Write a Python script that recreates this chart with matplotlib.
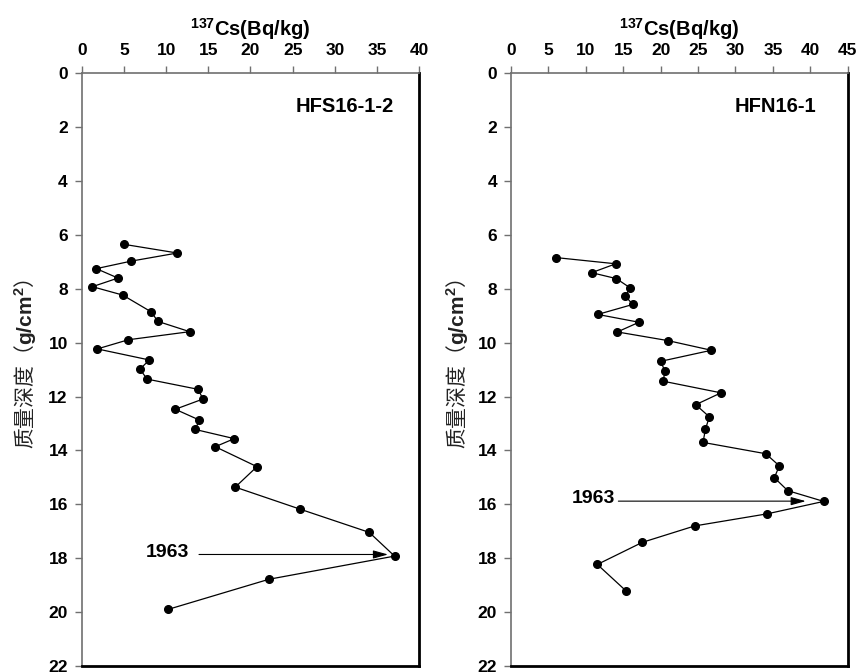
import matplotlib
matplotlib.use("Agg")
import matplotlib.pyplot as plt

plt.rcParams['mathtext.fontset'] = 'custom'
plt.rcParams['mathtext.rm'] = 'Liberation Sans:bold'
plt.rcParams['mathtext.bf'] = 'Liberation Sans:bold'
plt.rcParams['mathtext.it'] = 'Liberation Sans:bold'
plt.rcParams['font.family'] = ['Liberation Sans', 'Noto Sans CJK SC', 'DejaVu Sans']

# ---- data ----
hfs_cs = [5.05, 11.33, 5.88, 1.73, 4.30, 1.26, 4.85, 8.21, 9.04, 12.8,
          5.52, 1.85, 8.01, 6.91, 7.74, 13.8, 14.37, 11.09, 13.94, 13.46,
          18.08, 15.83, 20.77, 18.2, 25.9, 34.08, 37.08, 22.19, 10.22]
hfs_depth = [6.35, 6.67, 6.97, 7.25, 7.60, 7.92, 8.23, 8.85, 9.21, 9.59,
             9.89, 10.23, 10.64, 10.98, 11.35, 11.73, 12.09, 12.47, 12.87, 13.22,
             13.56, 13.86, 14.6, 15.36, 16.18, 17.04, 17.92, 18.78, 19.9]

hfn_cs = [6.02, 14.0, 10.78, 14.08, 15.91, 15.29, 16.27, 11.59, 17.11, 14.21,
          20.95, 26.78, 20.01, 20.55, 20.37, 28.07, 24.69, 26.51, 25.98, 25.67,
          34.05, 35.87, 35.2, 36.99, 41.8, 34.27, 24.56, 17.55, 11.54, 15.33]
hfn_depth = [6.84, 7.07, 7.40, 7.62, 7.96, 8.27, 8.58, 8.95, 9.24, 9.60,
             9.92, 10.28, 10.69, 11.04, 11.43, 11.86, 12.30, 12.75, 13.22, 13.70,
             14.12, 14.57, 15.01, 15.49, 15.89, 16.35, 16.8, 17.41, 18.23, 19.2]

x_label = r'$^{137}$Cs(Bq/kg)'
y_label = '质量深度（$\\mathbf{g/cm^2}$）'
core_names = ['HFS16-1-2', 'HFN16-1']
x_max = [40, 45]
year_label = '1963'
# arrow (text position x, arrow start x, arrow end x, depth)
arrow_text_x = [10.2, 11.0]
arrow_start_x = [13.9, 14.35]
arrow_end_x = [36.3, 39.4]
arrow_depth = [17.86, 15.88]

fig = plt.figure(figsize=(8.61, 6.72), dpi=100)
ax_pos = [[0.0949, 0.0089, 0.392, 0.882], [0.5935, 0.0089, 0.391, 0.882]]
name_x = [0.925, 0.906]
label_x = [-0.168, -0.159]

series = [(hfs_cs, hfs_depth), (hfn_cs, hfn_depth)]

for i in range(2):
    ax = fig.add_axes(ax_pos[i])
    xs, ys = series[i]
    ax.plot(xs, ys, color='black', lw=0.9, marker='o', ms=5.5,
            markerfacecolor='black', markeredgecolor='black')
    ax.set_xlim(0, x_max[i])
    ax.set_ylim(22, 0)
    ax.set_xticks(range(0, x_max[i] + 1, 5))
    ax.set_yticks(range(0, 23, 2))
    ax.xaxis.tick_top()
    ax.xaxis.set_label_position('top')
    ax.tick_params(axis='both', direction='out', length=5, width=1,
                   color='#707070', labelsize=12.5, pad=5)
    ax.tick_params(axis='x', pad=6)
    for lab in ax.get_xticklabels() + ax.get_yticklabels():
        lab.set_fontweight('bold')
    ax.spines['top'].set_color('#707070')
    ax.spines['left'].set_color('#707070')
    ax.spines['top'].set_linewidth(1.2)
    ax.spines['left'].set_linewidth(1.2)
    ax.spines['bottom'].set_color('black')
    ax.spines['right'].set_color('black')
    ax.spines['bottom'].set_linewidth(2)
    ax.spines['right'].set_linewidth(2)
    ax.set_xlabel(x_label, fontsize=14.5, fontweight='bold', labelpad=5)
    ax.text(label_x[i], 0.51, y_label, transform=ax.transAxes, rotation=90,
            ha='center', va='center', fontsize=15,
            family=['Noto Sans CJK SC', 'Liberation Sans'], color='#222222')
    ax.text(name_x[i], 0.944, core_names[i], transform=ax.transAxes,
            ha='right', va='center', fontsize=14.5, fontweight='bold')
    ax.text(arrow_text_x[i], arrow_depth[i] - 0.08, year_label, ha='center', va='center',
            fontsize=14, fontweight='bold')
    ax.annotate('', xy=(arrow_end_x[i], arrow_depth[i]),
                xytext=(arrow_start_x[i], arrow_depth[i]),
                arrowprops=dict(arrowstyle='-|>,head_length=0.9,head_width=0.25',
                                color='black', lw=0.8, shrinkA=0, shrinkB=0))

fig.savefig('out.png', dpi=100)
